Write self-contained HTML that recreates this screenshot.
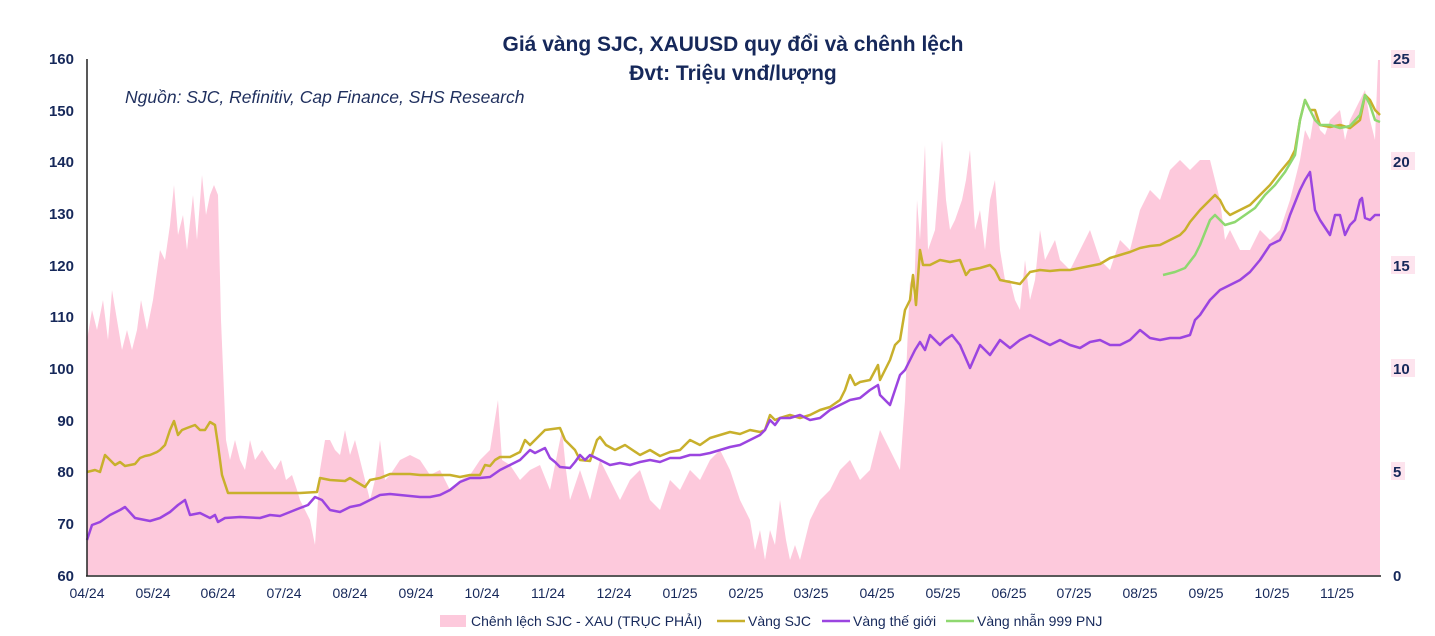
<!DOCTYPE html>
<html><head><meta charset="utf-8"><style>
body{margin:0;background:#fff;width:1435px;height:631px;overflow:hidden;font-family:"Liberation Sans",sans-serif}
</style></head><body>
<svg width="1435" height="631" viewBox="0 0 1435 631" xmlns="http://www.w3.org/2000/svg" font-family="Liberation Sans, sans-serif">
<text x="733" y="51" text-anchor="middle" font-size="21" font-weight="bold" fill="#16285a">Giá vàng SJC, XAUUSD quy đổi và chênh lệch</text>
<text x="733" y="80" text-anchor="middle" font-size="21" font-weight="bold" fill="#16285a">Đvt: Triệu vnđ/lượng</text>
<text x="125" y="103" font-size="17.5" font-style="italic" fill="#1f2f5e">Nguồn: SJC, Refinitiv, Cap Finance, SHS Research</text>
<polygon fill="#fdc9dc" points="87,575 87,340 92,310 97,330 103,300 108,340 112,290 117,320 122,350 127,330 132,350 137,330 141,300 147,330 153,300 160,250 165,260 170,225 174,185 178,235 183,215 187,250 193,195 197,240 202,175 206,215 210,195 214,185 218,195 221,320 226,440 230,460 235,440 240,460 245,470 250,440 255,460 262,450 268,460 275,470 281,460 286,480 292,475 297,490 300,500 305,510 310,520 315,545 320,470 325,440 330,440 335,450 340,455 345,430 350,455 355,440 360,460 365,480 370,500 375,480 380,440 385,480 390,475 400,460 410,455 420,460 430,475 440,470 450,490 460,480 470,475 480,460 490,450 498,400 502,460 510,465 520,480 530,470 540,465 550,490 558,450 562,430 566,470 570,500 580,470 590,500 600,460 610,480 620,500 630,480 640,470 650,500 660,510 670,480 680,490 690,470 700,480 710,460 720,450 730,470 740,500 750,520 755,550 760,530 765,560 770,530 775,545 780,500 786,540 790,560 795,545 800,560 810,520 820,500 830,490 840,470 850,460 860,480 870,470 880,430 890,450 900,470 905,400 910,280 914,300 917,200 920,240 925,145 928,250 935,230 942,140 946,200 950,230 955,220 962,200 966,180 970,150 975,230 980,210 985,250 990,200 995,180 1000,250 1005,280 1010,280 1015,300 1020,310 1025,260 1030,300 1035,280 1040,230 1045,260 1050,250 1055,240 1060,260 1070,270 1080,250 1090,230 1100,260 1110,270 1120,240 1130,250 1140,210 1150,190 1160,200 1170,170 1180,160 1190,170 1200,160 1210,160 1220,200 1225,240 1230,230 1240,250 1250,250 1260,230 1270,240 1280,230 1290,200 1300,160 1305,130 1310,140 1315,110 1320,130 1325,135 1330,120 1340,110 1345,140 1350,120 1360,100 1365,90 1370,120 1375,140 1378,60 1380,60 1380,575"/>
<polyline fill="none" stroke="#c8b02c" stroke-width="2.5" stroke-linejoin="round" points="87,472 95,470 100,472 105,455 110,460 115,465 120,462 125,466 130,465 135,464 140,458 145,456 150,455 157,452 160,450 165,445 170,430 174,421 178,435 182,430 187,428 195,425 200,430 205,430 210,422 215,425 218,445 222,475 228,493 235,493 300,493 317,492 320,478 330,480 345,481 350,478 360,484 365,487 370,480 380,478 390,474 400,474 410,474 420,475 450,475 460,477 470,475 480,475 485,465 490,466 495,460 500,457 510,457 520,452 525,440 530,445 545,430 560,428 565,440 575,450 580,460 590,461 597,440 600,437 606,445 615,450 625,445 640,455 650,450 660,456 670,452 680,450 690,440 700,445 710,438 730,432 740,434 750,430 760,432 765,430 770,415 775,420 780,418 790,415 800,418 810,415 820,410 830,407 840,400 845,390 850,375 855,385 860,382 870,380 878,365 880,380 885,370 890,360 895,345 900,340 905,310 910,300 913,275 916,305 920,250 923,265 930,265 940,260 950,262 960,260 966,275 970,270 980,268 990,265 995,270 1000,280 1010,282 1020,284 1030,272 1040,270 1050,271 1060,270 1070,270 1080,268 1090,266 1100,264 1110,258 1120,255 1130,252 1140,248 1150,246 1160,245 1170,240 1180,235 1185,230 1190,222 1200,210 1210,200 1215,195 1220,200 1225,210 1230,215 1240,210 1250,205 1260,195 1270,185 1280,172 1290,160 1295,150 1300,120 1305,100 1310,110 1315,110 1320,125 1330,127 1340,125 1350,128 1360,120 1365,95 1370,100 1375,110 1380,115"/>
<polyline fill="none" stroke="#9b45e0" stroke-width="2.5" stroke-linejoin="round" points="87,540 92,525 100,522 110,515 120,510 125,507 135,518 150,521 160,518 170,512 178,505 185,500 190,515 200,513 210,518 215,515 218,522 225,518 240,517 260,518 270,515 280,516 290,512 300,508 308,505 315,497 322,500 330,510 340,512 350,507 360,505 370,500 380,495 390,494 400,495 420,497 430,497 440,495 450,490 460,482 470,478 480,478 490,477 500,470 510,465 520,460 525,455 530,450 535,453 545,448 550,458 555,462 560,467 570,468 575,462 580,455 585,460 590,455 600,460 610,465 620,463 630,465 640,462 650,460 660,462 670,458 680,458 690,455 700,455 710,453 720,450 730,447 740,445 750,440 760,435 765,430 770,420 775,425 780,418 790,418 800,415 810,420 820,418 830,410 840,405 850,400 860,398 870,390 878,385 880,395 885,400 890,405 895,390 900,375 905,370 910,360 915,350 920,342 925,350 930,335 940,345 945,340 952,335 960,345 970,368 980,345 990,355 1000,340 1010,348 1020,340 1030,335 1040,340 1050,345 1060,340 1070,345 1080,348 1090,342 1100,340 1110,345 1120,345 1130,340 1140,330 1150,338 1160,340 1170,338 1180,338 1190,335 1195,320 1200,315 1210,300 1220,290 1230,285 1240,280 1250,272 1260,260 1270,245 1280,240 1285,230 1290,215 1300,190 1305,180 1310,172 1315,210 1320,220 1330,235 1335,215 1340,215 1345,235 1350,225 1355,220 1360,200 1362,198 1365,218 1370,220 1375,215 1380,215"/>
<polyline fill="none" stroke="#8fd870" stroke-width="2.5" stroke-linejoin="round" points="1163,275 1175,272 1185,268 1195,255 1200,245 1210,220 1215,215 1220,220 1225,225 1235,222 1245,215 1255,208 1265,195 1275,185 1285,172 1295,155 1300,120 1305,100 1310,110 1315,120 1320,125 1330,125 1340,128 1350,126 1360,115 1365,95 1370,105 1375,120 1380,122"/>
<line x1="87" y1="59" x2="87" y2="576" stroke="#222" stroke-width="1.5"/>
<line x1="86" y1="576" x2="1381" y2="576" stroke="#222" stroke-width="1.5"/>
<g font-size="15" font-weight="bold" fill="#16285a" text-anchor="end">
<text x="74" y="64">160</text><text x="74" y="116">150</text><text x="74" y="167">140</text><text x="74" y="219">130</text><text x="74" y="271">120</text><text x="74" y="322">110</text><text x="74" y="374">100</text><text x="74" y="426">90</text><text x="74" y="477">80</text><text x="74" y="529">70</text><text x="74" y="581">60</text>
</g>
<g fill="#fde4ee"><rect x="1391" y="50" width="24" height="18"/><rect x="1391" y="152" width="24" height="18"/><rect x="1391" y="256" width="24" height="18"/><rect x="1391" y="359" width="24" height="18"/><rect x="1391" y="462" width="14" height="18"/></g>
<g font-size="15" font-weight="bold" fill="#16285a">
<text x="1393" y="64">25</text><text x="1393" y="167">20</text><text x="1393" y="271">15</text><text x="1393" y="374">10</text><text x="1393" y="477">5</text><text x="1393" y="581">0</text>
</g>
<g font-size="14" fill="#16285a" text-anchor="middle">
<text x="87" y="598">04/24</text><text x="153" y="598">05/24</text><text x="218" y="598">06/24</text><text x="284" y="598">07/24</text><text x="350" y="598">08/24</text><text x="416" y="598">09/24</text><text x="482" y="598">10/24</text><text x="548" y="598">11/24</text><text x="614" y="598">12/24</text><text x="680" y="598">01/25</text><text x="746" y="598">02/25</text><text x="811" y="598">03/25</text><text x="877" y="598">04/25</text><text x="943" y="598">05/25</text><text x="1009" y="598">06/25</text><text x="1074" y="598">07/25</text><text x="1140" y="598">08/25</text><text x="1206" y="598">09/25</text><text x="1272" y="598">10/25</text><text x="1337" y="598">11/25</text>
</g>
<g font-size="14" fill="#16285a">
<rect x="440" y="615" width="26" height="12" fill="#fdc9dc"/>
<text x="471" y="626">Chênh lệch SJC - XAU (TRỤC PHẢI)</text>
<line x1="717" y1="621" x2="745" y2="621" stroke="#c8b02c" stroke-width="2.5"/>
<text x="748" y="626">Vàng SJC</text>
<line x1="822" y1="621" x2="850" y2="621" stroke="#9b45e0" stroke-width="2.5"/>
<text x="853" y="626">Vàng thế giới</text>
<line x1="946" y1="621" x2="974" y2="621" stroke="#8fd870" stroke-width="2.5"/>
<text x="977" y="626">Vàng nhẫn 999 PNJ</text>
</g>
</svg>
</body></html>
